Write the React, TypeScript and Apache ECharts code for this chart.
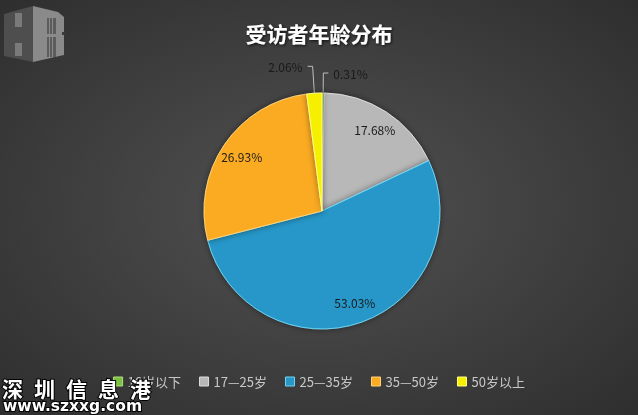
import React, { useEffect, useRef } from 'react';
import * as echarts from 'echarts';

const chartTitle = '受访者年龄分布';
const categories = ['16岁以下', '17—25岁', '25—35岁', '35—50岁', '50岁以上'];
const shares = [0.31, 17.68, 53.03, 26.93, 2.06];
const sliceColors = ['#7cc242', '#b8b8b8', '#2797c8', '#fbab21', '#f6f000'];
const edgeColors = ['#b0e07a', '#dcdcdc', '#6fd4f4', '#ffd27a', '#ffff88'];
const labelInside = [false, true, true, true, false];
const leaderLength = [20, 0, 0, 0, 27];
const watermarkChars = ['深', '圳', '信', '息', '港'];
const watermarkUrl = 'www.szxxg.com';

const CJK = '"Noto Sans CJK SC", "Noto Sans", sans-serif';

function App() {
  const ref = useRef<HTMLDivElement>(null);
  useEffect(() => {
    document.body.style.margin = '0';
    const chart = echarts.init(ref.current!, null, { renderer: 'svg' });
    const R = 118;
    const center = [322, 211];

    const logo: any[] = [
      { type: 'polygon', shape: { points: [[4, 14], [33, 6], [33, 62], [4, 56]] }, style: { fill: '#4e4e4e' } },
      { type: 'rect', shape: { x: 15, y: 13, width: 7, height: 14 }, style: { fill: '#7a7a7a' } },
      { type: 'rect', shape: { x: 15, y: 43, width: 7, height: 13 }, style: { fill: '#7a7a7a' } },
      { type: 'polygon', shape: { points: [[33, 6], [58, 12], [64, 17], [64, 55], [33, 62]] }, style: { fill: '#8a8a8a' } },
      { type: 'rect', shape: { x: 47, y: 18, width: 9, height: 16 }, style: { fill: '#5c5c5c' } },
      { type: 'rect', shape: { x: 47, y: 37, width: 9, height: 20 }, style: { fill: '#5c5c5c' } },
      { type: 'rect', shape: { x: 49, y: 18, width: 1, height: 39 }, style: { fill: '#8a8a8a' } },
      { type: 'rect', shape: { x: 52, y: 18, width: 1, height: 39 }, style: { fill: '#8a8a8a' } },
      { type: 'rect', shape: { x: 62, y: 32, width: 3, height: 3 }, style: { fill: '#3a3a3a' } },
    ];

    const wm: any[] = watermarkChars.map((ch, i) => ({
      type: 'text',
      left: 1 + i * 32,
      top: 376,
      style: {
        text: ch, fill: '#ffffff', stroke: '#000', lineWidth: 2,
        font: `bold 21px ${CJK}`,
      },
      z: 100,
    }));
    wm.push({
      type: 'text', left: 2, top: 397,
      style: {
        text: watermarkUrl, fill: '#ffffff', stroke: '#000', lineWidth: 2,
        font: 'bold 15.5px "DejaVu Sans", sans-serif',
      },
      z: 100,
    });

    chart.setOption({
      animation: false,
      backgroundColor: {
        type: 'radial', x: 0.5, y: 0.5, r: 0.75,
        colorStops: [
          { offset: 0, color: '#525252' },
          { offset: 1, color: '#2c2c2c' },
        ],
      },
      title: {
        text: chartTitle,
        left: 'center',
        top: 17,
        textStyle: {
          color: '#ffffff', fontSize: 21, fontWeight: 'bold', fontFamily: CJK,
          textShadowColor: 'rgba(0,0,0,0.8)', textShadowBlur: 3, textShadowOffsetX: 1, textShadowOffsetY: 1,
        },
      },
      legend: {
        bottom: 22,
        left: 'center',
        icon: 'rect',
        itemWidth: 9,
        itemHeight: 9,
        itemGap: 18,
        textStyle: { color: '#c8c8c8', fontSize: 13, fontFamily: CJK },
        data: categories.map((n, i) => ({
          name: n,
          itemStyle: { color: sliceColors[i], borderColor: edgeColors[i], borderWidth: 1 },
        })),
      },
      graphic: [...logo, ...wm],
      series: [
        {
          type: 'pie',
          center,
          radius: R,
          startAngle: 90,
          clockwise: true,
          silent: true,
          label: { show: false },
          labelLine: { show: false },
          itemStyle: { shadowBlur: 6, shadowColor: 'rgba(0,0,0,0.45)' },
          data: categories.map((n, i) => ({
            name: n,
            value: shares[i],
            itemStyle: { color: sliceColors[i], borderColor: edgeColors[i], borderWidth: 1 },
          })),
        },
        {
          type: 'pie',
          center,
          radius: [70, R],
          startAngle: 90,
          clockwise: true,
          silent: true,
          avoidLabelOverlap: false,
          itemStyle: { color: 'rgba(0,0,0,0)', borderWidth: 0 },
          data: categories.map((n, i) => ({
            name: n,
            value: shares[i],
            itemStyle: { color: 'rgba(0,0,0,0)', borderWidth: 0 },
            label: {
              show: true,
              position: labelInside[i] ? 'inside' : 'outside',
              formatter: (p: any) => p.value.toFixed(2) + '%',
              color: '#1a1a1a',
              fontSize: 12,
              fontFamily: CJK,
            },
            labelLine: {
              show: !labelInside[i],
              length: leaderLength[i],
              length2: 5,
              lineStyle: { color: '#bdbdbd', width: 1 },
            },
          })),
        },
      ],
    });
    return () => chart.dispose();
  }, []);
  return <div ref={ref} style={{ position: 'fixed', left: 0, top: 0, width: 638, height: 415 }} />;
}

export default App;
